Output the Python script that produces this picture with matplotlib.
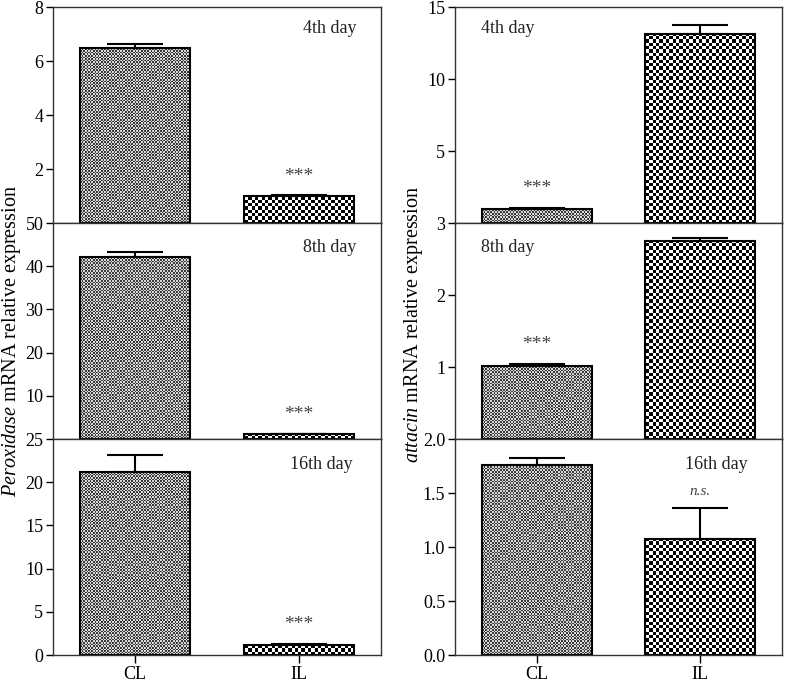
import numpy as np
import matplotlib
matplotlib.use('Agg')
import matplotlib.pyplot as plt
from matplotlib.colors import ListedColormap

plt.rcParams['font.family'] = 'Liberation Serif'
plt.rcParams['font.size'] = 12
plt.rcParams['mathtext.fontset'] = 'custom'
plt.rcParams['mathtext.it'] = 'Liberation Serif:italic'
plt.rcParams['mathtext.rm'] = 'Liberation Serif'

groups = ['CL', 'IL']
days = ['4th day', '8th day', '16th day']

# Peroxidase (left column)
perox_mean = [[6.48, 0.99], [42.2, 1.15], [21.2, 1.12]]
perox_err = [[0.16, 0.03], [1.2, 0.05], [1.9, 0.15]]
perox_ylim = [8, 50, 25]
perox_ticks = [[2, 4, 6, 8], [10, 20, 30, 40, 50], [0, 5, 10, 15, 20, 25]]
perox_sig = [(1, '***'), (1, '***'), (1, '***')]

# attacin (right column)
att_mean = [[1.0, 13.14], [1.02, 2.75], [1.757, 1.077]]
att_err = [[0.02, 0.61], [0.02, 0.04], [0.063, 0.28]]
att_ylim = [15, 3, 2.0]
att_ticks = [[5, 10, 15], [1, 2, 3], [0.0, 0.5, 1.0, 1.5, 2.0]]
att_sig = [(0, '***'), (0, '***'), (1, 'n.s.')]

W, H = 787, 684
fig = plt.figure(figsize=(W / 100, H / 100), dpi=100)

col_x = [(53, 328), (455, 327)]
top_px, panel_px = 7, 216

# checkerboard fill: (cell size px, dark colour, light colour)
fills = [(1.6, '#3a3a3a', '#d8d8d8'), (3.3, '#000000', '#ffffff')]


def checker_fill(ax, patch, cell, c1, c2):
    bb = ax.get_window_extent()
    nx = max(int(bb.width / cell), 1)
    ny = max(int(bb.height / cell), 1)
    arr = np.indices((ny, nx)).sum(axis=0) % 2
    x0, x1 = ax.get_xlim()
    y0, y1 = ax.get_ylim()
    im = ax.imshow(arr, extent=(x0, x1, y0, y1), aspect='auto',
                   interpolation='nearest', cmap=ListedColormap([c1, c2]),
                   zorder=1.5, origin='lower')
    im.set_clip_path(patch)
    ax.set_xlim(x0, x1)
    ax.set_ylim(y0, y1)


def draw_panel(ax, means, errs, ymax, ticks, sig, day, day_pos, bottom, sig_ital):
    x = np.arange(len(groups))
    ax.set_xlim(-0.5, 1.5)
    ax.set_ylim(0, ymax)
    bars = ax.bar(x, means, width=0.67, facecolor='none', edgecolor='black',
                  linewidth=1.5, zorder=2)
    for b, (cell, c1, c2) in zip(bars, fills):
        checker_fill(ax, b, cell, c1, c2)
    ax.errorbar(x, means, yerr=[np.zeros(len(errs)), errs], fmt='none',
                ecolor='black', elinewidth=1.5, capsize=20, capthick=1.5,
                zorder=3)
    ax.set_yticks(ticks)
    if isinstance(ticks[0], float):
        ax.set_yticklabels(['%.1f' % t for t in ticks])
    ax.tick_params(axis='y', direction='out', length=5, width=1, pad=2,
                   labelsize=13)
    if bottom:
        ax.set_xticks(x)
        ax.set_xticklabels(groups)
        ax.tick_params(axis='x', direction='out', length=6, width=1, pad=2,
                       labelsize=13)
    else:
        ax.set_xticks([])
    for s in ax.spines.values():
        s.set_linewidth(1.0)
        s.set_color('#333333')
    ax.text(day_pos[0], day_pos[1], day, transform=ax.transAxes,
            ha='center', va='center', fontsize=13, color='#222222')
    i, label = sig
    ax.annotate(label, (x[i], means[i] + errs[i]), xytext=(0, 12 if sig_ital else 14),
                textcoords='offset points', ha='center', va='center',
                fontsize=11 if sig_ital else 14, color='#444444',
                style='italic' if sig_ital else 'normal')


left_day_pos = [(0.845, 0.9), (0.845, 0.885), (0.817, 0.88)]
right_day_pos = [(0.16, 0.9), (0.16, 0.885), (0.80, 0.88)]

for r in range(3):
    y0 = H - (top_px + (r + 1) * panel_px)
    lx, lw = col_x[0]
    ax = fig.add_axes([lx / W, y0 / H, lw / W, panel_px / H])
    draw_panel(ax, perox_mean[r], perox_err[r], perox_ylim[r], perox_ticks[r],
               perox_sig[r], days[r], left_day_pos[r], r == 2, False)
    if r == 1:
        ax.set_ylabel(r'$\it{Peroxidase}$ mRNA relative expression',
                      fontsize=14.5)
        ax.yaxis.set_label_coords(-0.092, 0.454)
    rx, rw = col_x[1]
    ax = fig.add_axes([rx / W, y0 / H, rw / W, panel_px / H])
    draw_panel(ax, att_mean[r], att_err[r], att_ylim[r], att_ticks[r],
               att_sig[r], days[r], right_day_pos[r], r == 2, r == 2)
    if r == 1:
        ax.set_ylabel(r'$\it{attacin}$ mRNA relative expression',
                      fontsize=14.5)
        ax.yaxis.set_label_coords(-0.092, 0.532)

fig.savefig('out.png', dpi=100)
